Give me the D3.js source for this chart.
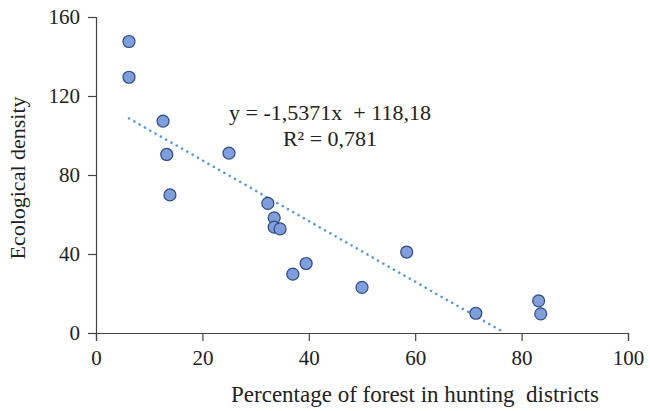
<!DOCTYPE html>
<html>
<head>
<meta charset="utf-8">
<script src="https://cdn.jsdelivr.net/npm/d3@7"></script>
</head>
<body style="margin:0">
<script>
// Data
const forestPct = [6.2, 6.2, 12.6, 13.3, 13.9, 25.0, 32.3, 33.5, 33.5, 34.6, 37.0, 39.5, 50.0, 58.4, 71.4, 83.2, 83.6];
const density   = [147.6, 129.5, 107.3, 90.4, 69.9, 91.1, 65.6, 58.3, 53.6, 52.7, 29.8, 35.2, 23.1, 41.0, 10.0, 16.3, 9.7];
const xTicks = [0, 20, 40, 60, 80, 100];
const yTicks = [0, 40, 80, 120, 160];
const slope = -1.5371, intercept = 118.18;
const eqLines = ["y = -1,5371x  + 118,18", "R² = 0,781"];

const width = 650, height = 411;
const margin = {top: 17, right: 22, bottom: 78, left: 96};
const font = "'Liberation Serif'";

const svg = d3.select("body").append("svg")
	.attr("width", width).attr("height", height);

const scaleX = d3.scaleLinear([0, 100], [margin.left, width - margin.right]);
const scaleY = d3.scaleLinear([0, 160], [height - margin.bottom, margin.top]);

// Axes
const axisX = svg.append("g")
	.attr("transform", `translate(0, ${scaleY(0)})`)
	.call(d3.axisBottom(scaleX).tickValues(xTicks).tickSize(8).tickPadding(9));
const axisY = svg.append("g")
	.attr("transform", `translate(${scaleX(0)}, 0)`)
	.call(d3.axisLeft(scaleY).tickValues(yTicks).tickSize(8).tickPadding(8));

[axisX, axisY].forEach(a => {
	a.attr("font-family", null).attr("font-size", null);
	a.select(".domain").attr("stroke", "#444").attr("stroke-width", 1.2);
	a.selectAll(".tick line").attr("stroke", "#444").attr("stroke-width", 1.2);
});

// Trend line (clipped at y = 0)
const x0 = d3.min(forestPct);
const x1 = Math.min(d3.max(forestPct), -intercept / slope);
svg.append("line")
	.attr("x1", scaleX(x0)).attr("y1", scaleY(slope * x0 + intercept))
	.attr("x2", scaleX(x1)).attr("y2", scaleY(slope * x1 + intercept))
	.attr("stroke", "#5B9BD5").attr("stroke-width", 2.6)
	.attr("stroke-linecap", "round").attr("stroke-dasharray", "0.1 6");

// Points
svg.append("g").selectAll("circle")
	.data(d3.zip(forestPct, density))
	.join("circle")
	.attr("cx", d => scaleX(d[0]))
	.attr("cy", d => scaleY(d[1]))
	.attr("r", 6)
	.attr("fill", "#7F9EDB")
	.attr("stroke", "#2E4A7D")
	.attr("stroke-width", 1.2);

// Same serif face for every text
svg.selectAll("text")
	.attr("font-family", font)
	.attr("font-size", 21)
	.attr("fill", "#222");

// Equation
svg.append("text")
	.attr("x", 330).attr("y", 120)
	.attr("text-anchor", "middle")
	.attr("xml:space", "preserve")
	.attr("font-family", font).attr("font-size", 22).attr("fill", "#222")
	.selectAll("tspan").data(eqLines).join("tspan")
	.attr("x", 330).attr("dy", (d, i) => i ? 26 : 0)
	.text(d => d);

// Axis labels
svg.append("text")
	.attr("x", 415).attr("y", 402)
	.attr("text-anchor", "middle")
	.attr("xml:space", "preserve")
	.attr("font-family", font).attr("font-size", 23).attr("fill", "#222")
	.text("Percentage of forest in hunting  districts");
svg.append("text")
	.attr("transform", "translate(25, 178)rotate(-90)")
	.attr("text-anchor", "middle")
	.attr("font-family", font).attr("font-size", 22).attr("fill", "#222")
	.text("Ecological density");
</script>
</body>
</html>
